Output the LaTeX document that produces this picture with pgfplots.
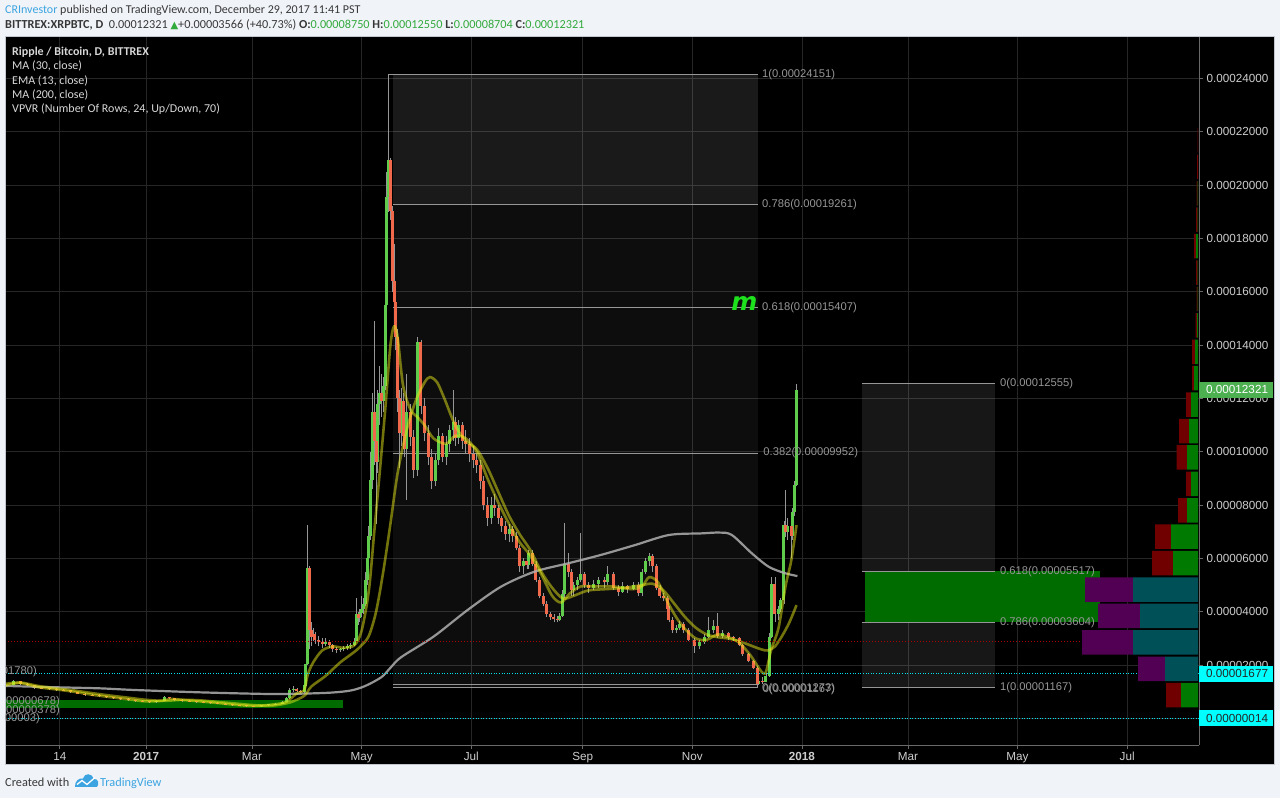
\documentclass[border=0pt]{standalone}
\usepackage{fontspec}
\usepackage{graphicx}
\usepackage{pgfplots}
\usepackage{pgfplotstable}
\pgfplotsset{compat=1.18}
\setmainfont{Liberation Sans}
\newfontfamily\carl{Carlito}
\newfontfamily\djv{DejaVu Sans}

\definecolor{bgc}{RGB}{240,243,248}
\definecolor{framec}{RGB}{195,199,208}
\definecolor{gridc}{RGB}{38,38,38}
\definecolor{axc}{RGB}{105,105,105}
\definecolor{lblc}{RGB}{205,205,205}
\definecolor{legc}{RGB}{215,215,215}
\definecolor{upc}{RGB}{95,205,75}
\definecolor{dnc}{RGB}{240,105,75}
\definecolor{wickc}{RGB}{150,150,150}
\definecolor{mayel}{RGB}{230,230,25}
\definecolor{ma200c}{RGB}{175,175,175}
\definecolor{fibc}{RGB}{150,150,150}
\definecolor{fibgreen}{RGB}{0,108,0}
\definecolor{vgreen}{RGB}{0,122,0}
\definecolor{vred}{RGB}{112,0,0}
\definecolor{vteal}{RGB}{0,80,88}
\definecolor{vpurple}{RGB}{82,0,84}
\definecolor{cyanl}{RGB}{0,225,235}
\definecolor{cyanbox}{RGB}{0,255,255}
\definecolor{redl}{RGB}{175,0,0}
\definecolor{tvblue}{RGB}{60,165,225}
\definecolor{hdr}{RGB}{55,55,55}
\definecolor{hgreen}{RGB}{50,170,60}
\definecolor{boxgreen}{RGB}{76,175,80}
\definecolor{mgreen}{RGB}{30,225,30}

% daily candles (x: days since 1 Jan 2017, prices in 1e-5 BTC)
\pgfplotstableread{
d o h l c
-78 1.20 1.30 1.18 1.26
-74 1.26 1.45 1.24 1.40
-70 1.40 1.42 1.27 1.30
-66 1.30 1.33 1.20 1.24
-62 1.24 1.26 1.12 1.15
-58 1.15 1.19 1.10 1.12
-54 1.12 1.16 1.07 1.10
-50 1.10 1.13 1.03 1.06
-46 1.06 1.10 1.02 1.05
-42 1.05 1.07 0.95 0.98
-38 0.98 1.01 0.90 0.93
-34 0.93 0.96 0.86 0.89
-30 0.89 0.92 0.83 0.86
-26 0.86 0.90 0.81 0.84
-22 0.84 0.86 0.76 0.79
-18 0.79 0.82 0.73 0.76
-14 0.76 0.78 0.70 0.72
-10 0.72 0.75 0.67 0.69
-6 0.69 0.71 0.62 0.65
-2 0.65 0.68 0.60 0.62
2 0.62 0.66 0.58 0.61
6 0.61 0.70 0.59 0.66
10 0.66 0.86 0.64 0.80
13 0.80 0.82 0.72 0.75
16 0.75 0.77 0.66 0.69
20 0.69 0.72 0.63 0.66
24 0.66 0.70 0.61 0.64
28 0.64 0.66 0.59 0.62
32 0.62 0.64 0.57 0.60
36 0.60 0.62 0.55 0.58
40 0.58 0.60 0.53 0.55
44 0.55 0.57 0.50 0.52
48 0.52 0.54 0.48 0.50
52 0.50 0.52 0.46 0.48
56 0.48 0.50 0.44 0.46
60 0.46 0.48 0.43 0.45
64 0.45 0.52 0.44 0.50
68 0.50 0.55 0.48 0.53
72 0.53 0.58 0.51 0.56
76 0.56 0.65 0.54 0.62
78 0.62 0.80 0.60 0.75
80 0.75 1.15 0.73 1.07
82 1.07 1.22 1.00 1.12
84 1.12 1.14 0.98 1.02
86 1.02 1.06 0.95 0.99
88 0.99 1.35 0.97 1.27
89 1.27 2.15 1.20 2.05
90 2.05 7.27 2.00 5.64
91 5.64 5.70 2.60 3.30
92 3.30 3.60 2.70 3.05
93 3.05 3.40 2.90 3.15
94 3.15 3.25 2.80 2.95
96 2.95 3.10 2.70 2.85
98 2.85 3.00 2.65 2.80
100 2.80 3.00 2.70 2.88
102 2.88 2.95 2.65 2.75
104 2.75 2.80 2.50 2.62
106 2.62 2.68 2.45 2.55
108 2.55 2.66 2.48 2.60
110 2.60 2.70 2.52 2.65
112 2.65 2.78 2.58 2.70
114 2.70 2.82 2.62 2.75
116 2.75 3.00 2.70 2.90
117 2.90 4.50 2.85 3.90
118 3.90 4.00 3.50 3.75
119 3.75 4.10 3.60 3.95
120 3.95 4.60 3.80 4.10
121 4.10 4.50 3.90 4.30
122 4.30 5.50 4.20 5.20
123 5.20 6.20 5.00 6.00
124 6.00 7.20 5.80 6.86
125 6.86 10.0 6.70 8.94
126 8.94 12.2 8.60 11.5
127 11.5 14.9 9.50 10.4
128 10.4 10.8 7.30 9.60
129 9.60 12.3 9.20 11.8
130 11.8 13.2 11.0 12.2
131 12.2 12.9 11.3 11.9
132 11.9 12.8 11.5 12.45
133 12.45 15.8 12.3 15.5
134 15.5 20.5 15.2 19.56
135 19.56 24.151 19.0 20.94
136 20.94 21.0 18.7 19.03
137 19.03 19.2 16.0 16.4
138 16.4 17.8 15.2 15.6
139 15.6 16.0 13.8 14.3
140 14.3 14.6 11.5 12.0
141 12.0 12.3 9.4 10.7
142 10.7 12.4 10.2 11.9
143 11.9 12.2 10.3 10.6
144 10.6 11.2 9.8 10.1
145 10.1 12.9 8.2 11.5
147 11.5 11.8 10.2 10.55
149 10.55 10.8 9.0 9.3
151 9.3 14.3 9.1 14.1
153 14.1 14.2 11.4 11.7
155 11.7 12.0 10.4 10.7
157 10.7 11.0 9.5 9.8
159 9.8 10.1 8.6 8.9
161 8.9 9.9 8.7 9.7
163 9.7 10.9 9.5 10.6
165 10.6 10.7 9.6 9.8
167 9.8 10.6 9.5 10.3
169 10.3 11.0 10.0 10.8
171 10.8 12.3 10.4 11.1
172 11.1 11.3 10.2 10.5
174 10.5 11.2 10.3 11.0
176 11.0 11.1 10.1 10.4
178 10.4 10.8 9.9 10.3
180 10.3 10.5 9.6 9.9
182 9.9 10.2 9.4 9.7
184 9.7 9.9 9.2 9.5
186 9.5 9.7 8.6 8.9
188 8.9 9.1 7.8 8.0
190 8.0 8.3 7.2 7.5
192 7.5 8.3 7.3 8.0
194 8.0 8.4 7.6 7.9
196 7.9 8.0 7.3 7.5
198 7.5 7.6 7.0 7.2
200 7.2 7.4 6.7 6.9
202 6.9 7.3 6.6 7.1
204 7.1 7.2 6.6 6.85
206 6.85 7.0 6.3 6.4
208 6.4 6.5 5.5 5.7
210 5.7 6.0 5.4 5.9
212 5.9 6.0 5.6 5.75
213 5.75 6.3 5.6 6.2
215 6.2 6.3 5.7 5.8
217 5.8 5.9 5.1 5.2
219 5.2 5.3 4.5 4.6
221 4.6 4.7 4.2 4.3
223 4.3 4.4 3.8 3.9
225 3.9 4.0 3.7 3.8
227 3.8 3.9 3.6 3.72
229 3.72 3.85 3.6 3.70
230 3.70 3.95 3.65 3.85
232 3.85 4.8 3.8 4.65
233 4.65 7.33 4.5 5.8
235 5.8 6.2 5.3 5.5
237 5.5 5.6 4.6 4.8
238 4.8 5.1 4.6 5.0
240 5.0 5.3 4.8 5.2
242 5.2 6.95 5.1 5.4
244 5.4 5.5 4.9 5.0
246 5.0 5.1 4.7 4.9
249 4.9 5.2 4.8 5.05
252 5.05 5.3 4.9 5.2
255 5.2 5.3 4.9 5.1
257 5.1 5.7 5.0 5.4
260 5.4 5.5 4.8 4.9
263 4.9 5.0 4.6 4.75
265 4.75 5.1 4.7 4.95
268 4.95 5.0 4.7 4.85
271 4.85 5.1 4.8 5.0
274 5.0 5.1 4.6 4.7
276 4.7 5.6 4.6 5.5
278 5.5 6.0 5.4 5.9
280 5.9 6.2 5.7 6.1
282 6.1 6.15 5.5 5.7
284 5.7 5.8 4.8 4.9
286 4.9 5.0 4.5 4.6
288 4.6 4.7 4.4 4.5
290 4.5 4.6 4.0 4.1
291 4.1 4.2 3.6 3.7
293 3.7 3.8 3.2 3.3
295 3.3 3.5 3.2 3.4
297 3.4 3.65 3.3 3.55
299 3.55 3.6 3.2 3.3
302 3.3 3.4 2.9 2.95
305 2.95 3.0 2.45 2.7
308 2.7 2.95 2.6 2.85
311 2.85 3.15 2.8 3.05
313 3.05 3.8 3.0 3.3
316 3.3 3.7 3.2 3.45
318 3.45 3.95 3.0 3.1
321 3.1 3.3 3.0 3.2
324 3.2 3.25 2.95 3.05
327 3.05 3.1 2.9 3.0
330 3.0 3.05 2.7 2.75
332 2.75 2.8 2.35 2.4
335 2.4 2.45 2.1 2.15
338 2.15 2.2 1.85 1.9
340 1.9 1.95 1.14 1.30
341 1.30 1.5 1.25 1.42
343 1.42 1.55 1.3 1.38
345 1.38 1.7 1.35 1.6
347 1.6 3.2 1.55 3.06
348 3.06 5.3 3.0 5.05
350 5.05 5.3 3.6 3.9
352 3.9 4.2 3.7 4.1
353 4.1 4.5 4.0 4.44
355 4.44 7.4 4.3 7.25
356 7.25 8.57 6.8 7.0
357 7.0 7.5 6.7 7.2
359 7.2 7.5 6.0 6.85
360 6.85 7.9 6.7 7.75
361 7.75 8.9 7.6 8.75
362 8.75 12.55 8.704 12.321
}\candles

\pgfplotstableread{
d v
-78 1.24
-70 1.33
-60 1.17
-50 1.09
-40 1.00
-30 0.89
-20 0.80
-10 0.72
0 0.64
8 0.66
14 0.73
20 0.70
30 0.64
40 0.58
50 0.51
60 0.47
70 0.52
78 0.62
84 0.95
88 1.05
90 1.65
93 2.1
98 2.55
104 2.7
110 2.65
116 2.75
120 3.3
124 4.8
127 7.0
130 9.2
133 11.5
136 14.0
138 14.7
140 14.3
143 12.5
147 11.6
151 11.3
155 11.0
160 10.5
167 10.3
172 10.6
178 10.5
184 10.0
190 9.0
196 8.1
202 7.3
208 6.6
214 6.1
220 5.4
226 4.6
231 4.35
236 4.7
242 4.95
250 4.95
260 4.95
270 4.85
276 4.95
280 5.3
285 5.1
290 4.4
295 3.8
300 3.35
306 3.0
312 2.95
318 3.15
324 3.05
330 2.85
336 2.4
340 2.0
343 1.72
345 1.75
348 2.6
352 3.4
356 5.0
359 5.9
362 7.25
}\emaT

\pgfplotstableread{
d v
-78 1.30
-70 1.35
-60 1.22
-50 1.13
-40 1.05
-30 0.95
-20 0.86
-10 0.78
0 0.70
10 0.66
20 0.70
30 0.68
40 0.62
50 0.56
60 0.50
70 0.48
80 0.60
88 0.85
92 1.2
100 1.6
108 2.1
116 2.5
120 2.75
124 3.1
128 4.0
132 5.5
136 7.3
140 9.2
145 10.8
150 11.9
155 12.6
158 12.8
162 12.6
166 12.0
172 11.0
178 10.4
184 10.1
190 9.4
196 8.5
202 7.6
208 6.9
214 6.3
220 5.5
226 4.9
232 4.5
238 4.6
246 4.8
256 4.85
266 4.9
276 5.0
282 5.05
288 4.8
294 4.3
300 3.8
306 3.4
312 3.15
318 3.05
324 3.0
330 2.9
336 2.75
342 2.6
346 2.55
350 2.7
354 3.1
358 3.6
362 4.25
}\maT

\pgfplotstableread{
d v
-78.5 1.22
-50 1.17
-25.7 1.13
-7 1.07
30 0.98
67 0.92
86 0.93
103 0.97
114 1.05
122 1.22
131 1.55
136 1.9
142 2.3
160 3.07
179 4.07
197.5 4.94
216 5.5
235 5.82
253 6.13
272 6.5
291 6.88
309 6.94
319 6.97
326 6.88
337 6.2
346.5 5.69
355.5 5.45
362.5 5.34
}\mabT

% volume profile: row centre, up/down volume (outside / inside value area)
\pgfplotstableread{
y g t r p
0.873 17 0 15 0
1.864 0 33 0 27
2.854 0 65 0 51
3.845 0 58 0 42
4.835 0 65 0 48
5.826 25 0 21 0
6.816 27 0 16 0
7.807 11 0 9 0
8.797 7 0 5 0
9.788 11 0 10.5 0
10.778 9 0 10 0
11.769 7 0 5 0
12.759 4 0 2 0
13.750 3 0 3 0
14.740 1 0 1.5 0
15.731 0.5 0 1 0
16.721 0.5 0 1.5 0
17.712 2 0 2 0
18.702 0.5 0 1.5 0
19.693 0.5 0 1 0
20.683 0 0 1 0
21.674 0 0 0.5 0
}\vpvr

\begin{document}
\begin{tikzpicture}
\begin{scope}[x=1pt,y=1pt]
\useasboundingbox (0,0) rectangle (1280,798);
\fill[bgc] (0,0) rectangle (1280,798);
\fill[black] (5,33) rectangle (1274,761);
\end{scope}

\begin{axis}[
  at={(5pt,53pt)}, anchor=south west,
  scale only axis, width=1194pt, height=708pt,
  xmin=-78.5, xmax=586, ymin=-0.9936, ymax=25.553,
  axis x line*=bottom, axis y line*=right,
  axis line style={axc, line width=0.8pt},
  xtick={-48,0,59,120,181,243,304,365,424,485,546},
  xticklabels={14,\textbf{2017},Mar,May,Jul,Sep,Nov,\textbf{2018},Mar,May,Jul},
  ytick={0,2,4,6,8,10,12,14,16,18,20,22,24},
  yticklabels={0.00000000,0.00002000,0.00004000,0.00006000,0.00008000,0.00010000,0.00012000,0.00014000,0.00016000,0.00018000,0.00020000,0.00022000,0.00024000},
  yticklabel pos=right,
  tick align=outside, major tick length=4pt,
  tick style={axc, line width=0.8pt},
  grid=major, major grid style={gridc, line width=0.8pt},
  tick label style={font=\fontsize{11.7}{12}\selectfont, text=lblc},
  yticklabel style={anchor=west},
]
% fibonacci shading
\fill[white, fill opacity=0.10] (axis cs:137.5,19.261) rectangle (axis cs:340.6,24.151);
\fill[white, fill opacity=0.05] (axis cs:137.5,1.167) rectangle (axis cs:340.6,19.261);
\fill[white, fill opacity=0.09] (axis cs:398.4,5.517) rectangle (axis cs:472.5,12.555);
\fill[white, fill opacity=0.09] (axis cs:398.4,1.167) rectangle (axis cs:472.5,3.604);
\fill[fibgreen] (axis cs:400.1,3.604) rectangle (axis cs:530.9,5.517);
\fill[fibgreen] (axis cs:-78.5,0.378) rectangle (axis cs:109.6,0.678);
% fibonacci levels
\draw[fibc, line width=0.9pt] (axis cs:135.2,24.151) -- (axis cs:340.6,24.151);
\draw[fibc, line width=0.9pt] (axis cs:137.5,19.261) -- (axis cs:340.6,19.261);
\draw[fibc, line width=0.9pt] (axis cs:137.5,15.407) -- (axis cs:340.6,15.407);
\draw[fibc, line width=0.9pt] (axis cs:137.5,9.952) -- (axis cs:340.6,9.952);
\draw[fibc, line width=0.9pt] (axis cs:137.5,1.167) -- (axis cs:340.6,1.167);
\draw[fibc, line width=0.9pt] (axis cs:137.5,1.273) -- (axis cs:340.6,1.273);
\draw[fibc, line width=0.9pt] (axis cs:398.4,12.555) -- (axis cs:472.5,12.555);
\draw[fibc, line width=0.9pt] (axis cs:398.4,5.517) -- (axis cs:472.5,5.517);
\draw[fibc, line width=0.9pt] (axis cs:398.4,3.604) -- (axis cs:472.5,3.604);
\draw[fibc, line width=0.9pt] (axis cs:398.4,1.167) -- (axis cs:472.5,1.167);

% candles: wicks and bodies (bodies of the other colour are sent below the visible range)
\addplot[draw=none, mark=none, forget plot, error bars/.cd, y dir=plus, y explicit, error mark=none, error bar style={draw=wickc, line width=0.9pt}]
  table[x=d, y=l, y error expr={\thisrow{h}-\thisrow{l}}] {\candles};
\addplot[draw=none, mark=none, forget plot, error bars/.cd, y dir=plus, y explicit, error mark=none, error bar style={draw=upc, line width=3pt}]
  table[x=d, y expr={\thisrow{c}>=\thisrow{o} ? \thisrow{o} : -50}, y error expr={max(\thisrow{c}-\thisrow{o},0.03)}] {\candles};
\addplot[draw=none, mark=none, forget plot, error bars/.cd, y dir=plus, y explicit, error mark=none, error bar style={draw=dnc, line width=3pt}]
  table[x=d, y expr={\thisrow{c}<\thisrow{o} ? \thisrow{c} : -50}, y error expr={max(\thisrow{o}-\thisrow{c},0.03)}] {\candles};

% moving averages
\addplot[ma200c, line width=2.2pt, opacity=0.85, smooth, mark=none] table[x=d, y=v] {\mabT};
\addplot[mayel, line width=2.6pt, opacity=0.5, smooth, mark=none] table[x=d, y=v] {\maT};
\addplot[mayel, line width=2.6pt, opacity=0.5, smooth, mark=none] table[x=d, y=v] {\emaT};

% horizontal level lines
\addplot[redl, line width=0.9pt, dash pattern=on 1pt off 2pt, mark=none] coordinates {(-78.5,2.87) (586,2.87)};
\addplot[cyanl, line width=0.9pt, dash pattern=on 1pt off 1.6pt, mark=none] coordinates {(-78.5,1.677) (586,1.677)};
\addplot[cyanl, line width=0.9pt, dash pattern=on 1pt off 1.6pt, mark=none] coordinates {(-78.5,0.014) (586,0.014)};

% fib labels
\begin{scope}[every node/.style={anchor=west, inner sep=0pt, text=fibc, font=\fontsize{11.2}{12}\selectfont}]
\node at (axis cs:342.8,24.151) {1(0.00024151)};
\node at (axis cs:342.8,19.261) {0.786(0.00019261)};
\node at (axis cs:342.8,15.407) {0.618(0.00015407)};
\node at (axis cs:343.5,9.952) {0.382(0.00009952)};
\node at (axis cs:342.8,1.13) {0(0.00001273)};
\node at (axis cs:343.2,1.10) {0(0.00001167)};
\node at (axis cs:475.2,12.555) {0(0.00012555)};
\node at (axis cs:475.2,5.517) {0.618(0.00005517)};
\node at (axis cs:475.2,3.604) {0.786(0.00003604)};
\node at (axis cs:475.2,1.167) {1(0.00001167)};
\end{scope}
\node[text=mgreen, inner sep=0pt, font=\fontsize{25}{25}\selectfont\djv\bfseries\itshape] at (axis cs:333,15.55) {m};
\end{axis}

% volume profile (visible range)
\begin{axis}[
  at={(5pt,53pt)}, anchor=south west,
  scale only axis, width=1194pt, height=708pt,
  xmin=-1, xmax=1193, x dir=reverse, ymin=-0.9936, ymax=25.553,
  hide axis, xbar stacked, bar width=0.92,
]
\addplot[fill=vgreen, draw=none] table[x=g, y=y] {\vpvr};
\addplot[fill=vteal, draw=none] table[x=t, y=y] {\vpvr};
\addplot[fill=vred, draw=none] table[x=r, y=y] {\vpvr};
\addplot[fill=vpurple, draw=none] table[x=p, y=y] {\vpvr};
\end{axis}

\begin{scope}[x=1pt,y=1pt]
\draw[framec, line width=1pt] (5,33) rectangle (1274,761);
% clipped labels of an older fib drawing at left edge
\begin{scope}
\clip (5,53) rectangle (1199,761);
\begin{scope}[every node/.style={anchor=east, inner sep=0pt, text=fibc, font=\fontsize{11.2}{12}\selectfont}]
\node at (37,126) {(0.00001780)};
\node at (60,96) {(0.00000678)};
\node at (60,87) {(0.00000378)};
\node at (40,79) {(0.00000003)};
\end{scope}
\end{scope}
% price scale markers
\fill[boxgreen] (1199,400) rectangle (1273,416.3);
\node[anchor=west, inner sep=0pt, text=white, font=\fontsize{11.7}{12}\selectfont] at (1206,408.1) {0.00012321};
\fill[cyanbox] (1199,116) rectangle (1273,132.4);
\node[anchor=west, inner sep=0pt, text=black!85, font=\fontsize{11.7}{12}\selectfont] at (1206,124.2) {0.00001677};
\fill[cyanbox] (1199,71.6) rectangle (1273,88);
\node[anchor=west, inner sep=0pt, text=black!85, font=\fontsize{11.7}{12}\selectfont] at (1206,79.8) {0.00000014};
% in-chart legend
\node[anchor=base west, inner sep=0pt, text=legc, font=\carl\fontsize{12}{14}\selectfont\bfseries] at (12,742) {Ripple / Bitcoin, D, BITTREX};
\begin{scope}[every node/.style={anchor=base west, inner sep=0pt, text=legc, font=\carl\fontsize{12}{14}\selectfont}]
\node at (12,728) {MA (30, close)};
\node at (12,713.5) {EMA (13, close)};
\node at (12,699) {MA (200, close)};
\node at (12,685) {VPVR (Number Of Rows, 24, Up/Down, 70)};
\end{scope}
% header
\node[anchor=base west, inner sep=0pt, text=hdr, font=\carl\fontsize{12}{14}\selectfont] at (5,784) {\textcolor{tvblue}{CRInvestor} published on TradingView.com, December 29, 2017 11:41 PST};
\node[anchor=base west, inner sep=0pt, text=hdr, font=\carl\fontsize{12.25}{14}\selectfont] at (5,769) {\textbf{BITTREX:XRPBTC, D}\ \ 0.00012321 {\color{hgreen}\djv\fontsize{10}{12}\selectfont ▲}+0.00003566 (+40.73\%) \textbf{O:}\textcolor{hgreen}{0.00008750} \textbf{H:}\textcolor{hgreen}{0.00012550} \textbf{L:}\textcolor{hgreen}{0.00008704} \textbf{C:}\textcolor{hgreen}{0.00012321}};
% footer
\node[anchor=base west, inner sep=0pt, text=hdr, font=\carl\fontsize{12.3}{14}\selectfont] at (5,12) {Created with};
\fill[tvblue] (75,11) -- (97,11) .. controls (99.5,14) and (98.5,19.5) .. (94,19) .. controls (92,25) and (84.5,25.5) .. (83,19.5) .. controls (79.5,20.5) and (74.5,17) .. (75,11) -- cycle;
\draw[white, line width=1.3pt] (77,13.5) -- (82,17.5) -- (87,13.5) -- (95,20.5);
\node[anchor=base west, inner sep=0pt, text=tvblue, font=\carl\fontsize{12.3}{14}\selectfont] at (100,12) {TradingView};
\end{scope}
\end{tikzpicture}
\end{document}
